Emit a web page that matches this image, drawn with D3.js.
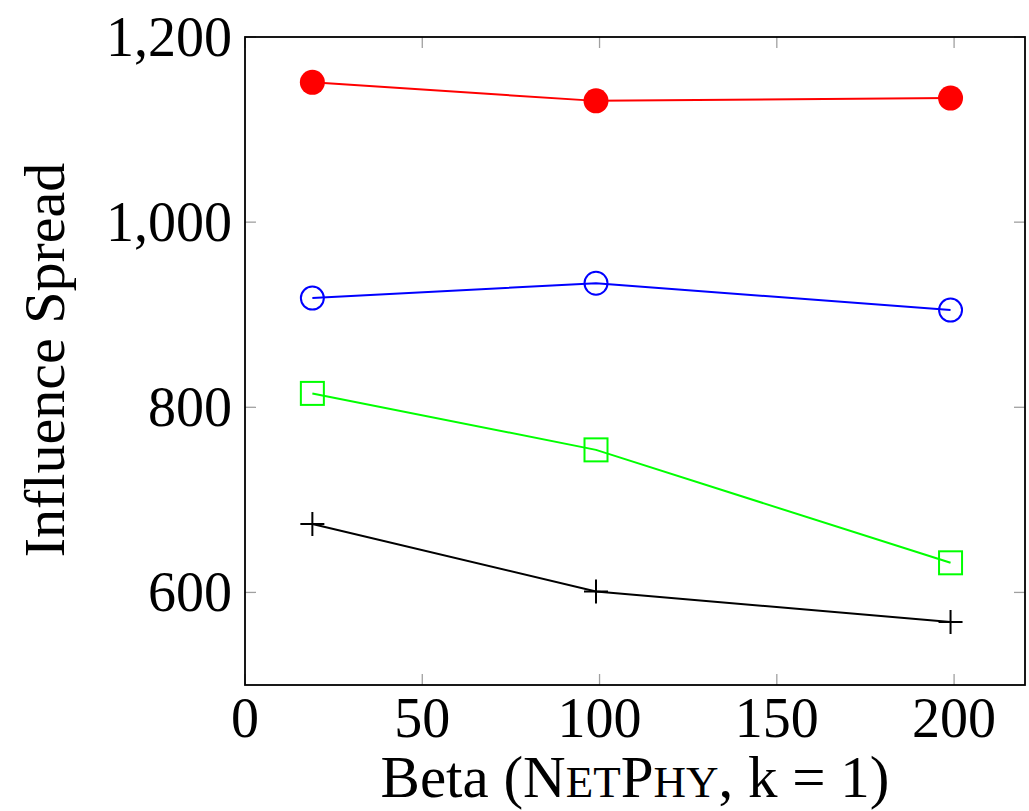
<!DOCTYPE html>
<html>
<head>
<meta charset="utf-8">
<script src="https://cdn.jsdelivr.net/npm/d3@7"></script>
<style>
  body { margin: 0; background: #fff; }
  text { font-family: "Liberation Serif", "DejaVu Serif", serif; fill: #000; }
</style>
</head>
<body>
<div id="chart"></div>
<script>
// Data
var betas = [19, 99, 199];
var redVals = [1151, 1131, 1134];
var blueVals = [918, 934, 905];
var greenVals = [815, 754, 632];
var blackVals = [674, 601, 568];
var xTicks = [0, 50, 100, 150, 200];
var yTicks = [600, 800, 1000, 1200];

// Dimensions
var margins = {top: 37, bottom: 126, left: 245, right: 4};
var width = 1029 - margins.left - margins.right;
var height = 811 - margins.top - margins.bottom;

var svg = d3.select("#chart").append("svg")
  .attr("width", 1029)
  .attr("height", 811);

var g = svg.append("g")
  .attr("transform", "translate(" + margins.left + "," + margins.top + ")");

var x = d3.scaleLinear().domain([0, 220]).range([0, width]);
var y = d3.scaleLinear().domain([500, 1200]).range([height, 0]);

// Ticks (inside, mirrored on all sides)
var tickLen = 11;
var tickCol = "#a0a0a0";
xTicks.forEach(function(t){
  g.append("line").attr("x1", x(t)).attr("x2", x(t)).attr("y1", height).attr("y2", height - tickLen)
    .attr("stroke", tickCol).attr("stroke-width", 1.3);
  g.append("line").attr("x1", x(t)).attr("x2", x(t)).attr("y1", 0).attr("y2", tickLen)
    .attr("stroke", tickCol).attr("stroke-width", 1.3);
});
yTicks.forEach(function(t){
  g.append("line").attr("x1", 0).attr("x2", tickLen).attr("y1", y(t)).attr("y2", y(t))
    .attr("stroke", tickCol).attr("stroke-width", 1.3);
  g.append("line").attr("x1", width).attr("x2", width - tickLen).attr("y1", y(t)).attr("y2", y(t))
    .attr("stroke", tickCol).attr("stroke-width", 1.3);
});

// Tick labels
var fmt = d3.format(",");
g.selectAll(".xlab").data(xTicks).enter().append("text")
  .attr("class", "xlab")
  .attr("x", function(d){ return x(d); })
  .attr("y", height + 52)
  .attr("text-anchor", "middle")
  .style("font-size", "56px")
  .text(function(d){ return d; });

g.selectAll(".ylab").data(yTicks).enter().append("text")
  .attr("class", "ylab")
  .attr("x", -13)
  .attr("y", function(d){ return y(d) + 19; })
  .attr("text-anchor", "end")
  .style("font-size", "56px")
  .text(function(d){ return fmt(d); });

// Frame
g.append("rect")
  .attr("x", 0).attr("y", 0)
  .attr("width", width).attr("height", height)
  .attr("fill", "none")
  .attr("stroke", "#000")
  .attr("stroke-width", 1.8);

// Series
var series = [
  {vals: blackVals, col: "#000000", mark: "plus"},
  {vals: greenVals, col: "#00ff00", mark: "square"},
  {vals: blueVals, col: "#0000ff", mark: "circle"},
  {vals: redVals, col: "#ff0000", mark: "dot"}
];

var line = d3.line()
  .x(function(d, i){ return x(betas[i]); })
  .y(function(d){ return y(d); });

series.forEach(function(s){
  g.append("path")
    .attr("d", line(s.vals))
    .attr("fill", "none")
    .attr("stroke", s.col)
    .attr("stroke-width", 2);

  var pts = g.selectAll(null).data(s.vals).enter();
  if (s.mark == "dot") {
    pts.append("circle")
      .attr("cx", function(d, i){ return x(betas[i]); })
      .attr("cy", function(d){ return y(d); })
      .attr("r", 12.5)
      .attr("fill", s.col);
  } else if (s.mark == "circle") {
    pts.append("circle")
      .attr("cx", function(d, i){ return x(betas[i]); })
      .attr("cy", function(d){ return y(d); })
      .attr("r", 11.5)
      .attr("fill", "none")
      .attr("stroke", s.col)
      .attr("stroke-width", 2);
  } else if (s.mark == "square") {
    pts.append("rect")
      .attr("x", function(d, i){ return x(betas[i]) - 11.5; })
      .attr("y", function(d){ return y(d) - 11.5; })
      .attr("width", 23).attr("height", 23)
      .attr("fill", "none")
      .attr("stroke", s.col)
      .attr("stroke-width", 2);
  } else {
    pts.append("path")
      .attr("d", function(d, i){
        var cx = x(betas[i]), cy = y(d);
        return "M" + (cx - 12) + "," + cy + "H" + (cx + 12) + "M" + cx + "," + (cy - 12) + "V" + (cy + 12);
      })
      .attr("stroke", s.col)
      .attr("stroke-width", 2);
  }
});

// Axis titles
var xt = svg.append("text")
  .attr("x", 635)
  .attr("y", 797)
  .attr("text-anchor", "middle")
  .style("font-size", "59px");
xt.append("tspan").text("Beta (N");
xt.append("tspan").style("font-size", "45px").text("ET");
xt.append("tspan").text("P");
xt.append("tspan").style("font-size", "45px").text("HY");
xt.append("tspan").text(", k = 1)");

svg.append("text")
  .attr("transform", "translate(64,360) rotate(-90)")
  .attr("text-anchor", "middle")
  .style("font-size", "58px")
  .text("Influence Spread");
</script>
</body>
</html>
